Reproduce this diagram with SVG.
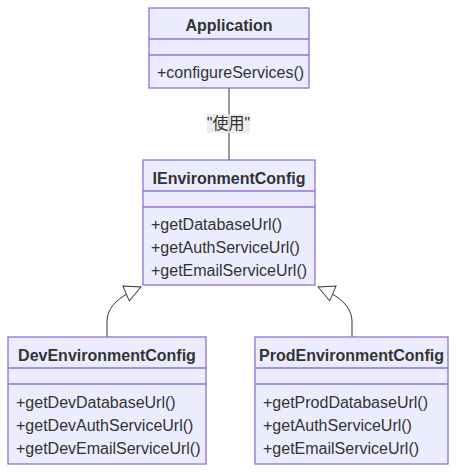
<svg xmlns="http://www.w3.org/2000/svg" width="456" height="472" viewBox="0 0 456 472">
<defs>
<style>
.box{fill:#ECECFF;stroke:#9370DB;stroke-width:1.3}
.div{stroke:#9370DB;stroke-width:1.3}
.t{font-family:"Liberation Sans","Noto Sans CJK SC",Arial,sans-serif;font-size:16px;fill:#333}
.b{font-weight:bold;text-anchor:middle}
.edge{fill:none;stroke:#333;stroke-width:1}
</style>
<marker id="tri" viewBox="0 0 20 20" refX="19" refY="10" markerWidth="18" markerHeight="18" orient="auto" markerUnits="userSpaceOnUse">
<path d="M1,1 L19,10 L1,19 Z" fill="#fff" stroke="#333" stroke-width="1"/>
</marker>
</defs>
<rect width="456" height="472" fill="#fff"/>
<g id="connectors">
<path class="edge" d="M229,88 L229,160"/>
<rect x="207" y="114" width="43" height="19" fill="#e8e8e8" opacity="0.8"/>
<text class="t" x="228.5" y="129" text-anchor="middle">"使用"</text>
<path class="edge" d="M107,337 L107,322 C107,306 120,296 141,287" marker-end="url(#tri)"/>
<path class="edge" d="M352,337 L352,322 C352,306 339,296 318,287" marker-end="url(#tri)"/>
</g>
<g id="Application">
<rect class="box" x="149" y="8" width="160" height="80"/>
<line class="div" x1="149" y1="39" x2="309" y2="39"/>
<line class="div" x1="149" y1="55" x2="309" y2="55"/>
<text class="t b" x="229" y="31">Application</text>
<text class="t" x="157" y="78">+configureServices()</text>
</g>
<g id="IEnvironmentConfig">
<rect class="box" x="143" y="160" width="172" height="125"/>
<line class="div" x1="143" y1="191" x2="315" y2="191"/>
<line class="div" x1="143" y1="207" x2="315" y2="207"/>
<text class="t b" x="229" y="184">IEnvironmentConfig</text>
<text class="t" x="151" y="230">+getDatabaseUrl()</text>
<text class="t" x="151" y="253">+getAuthServiceUrl()</text>
<text class="t" x="151" y="276">+getEmailServiceUrl()</text>
</g>
<g id="DevEnvironmentConfig">
<rect class="box" x="8" y="337" width="198" height="127"/>
<line class="div" x1="8" y1="368" x2="206" y2="368"/>
<line class="div" x1="8" y1="384" x2="206" y2="384"/>
<text class="t b" x="107" y="361">DevEnvironmentConfig</text>
<text class="t" x="16" y="408">+getDevDatabaseUrl()</text>
<text class="t" x="16" y="431">+getDevAuthServiceUrl()</text>
<text class="t" x="16" y="454">+getDevEmailServiceUrl()</text>
</g>
<g id="ProdEnvironmentConfig">
<rect class="box" x="255" y="337" width="193" height="127"/>
<line class="div" x1="255" y1="368" x2="448" y2="368"/>
<line class="div" x1="255" y1="384" x2="448" y2="384"/>
<text class="t b" x="351.5" y="361">ProdEnvironmentConfig</text>
<text class="t" x="263" y="408">+getProdDatabaseUrl()</text>
<text class="t" x="263" y="431">+getAuthServiceUrl()</text>
<text class="t" x="263" y="454">+getEmailServiceUrl()</text>
</g>
</svg>
